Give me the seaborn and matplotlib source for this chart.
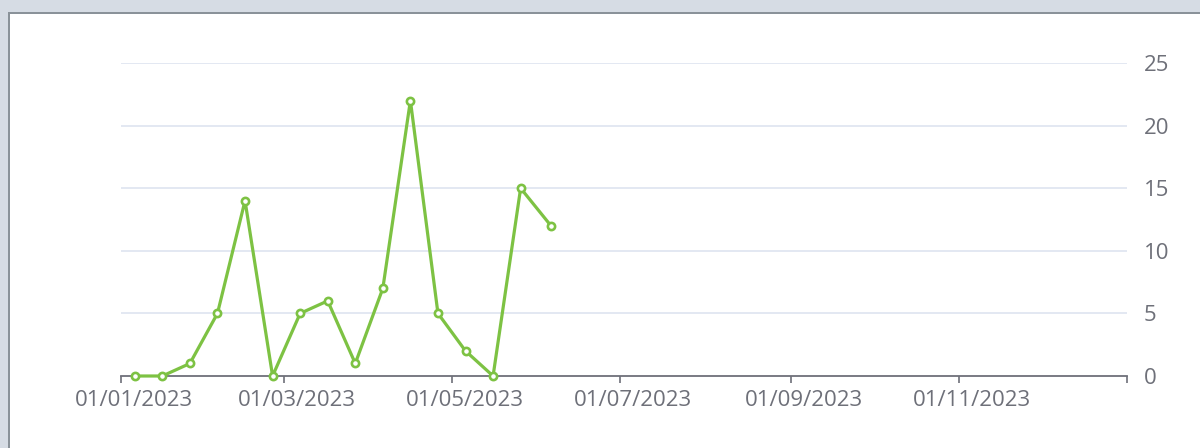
import numpy as np
import pandas as pd
import matplotlib
matplotlib.use("Agg")
import matplotlib.pyplot as plt
import matplotlib.transforms as mtransforms
from matplotlib.patches import Rectangle
import seaborn as sns

# ---- data ----
dates = ["2023-01-06", "2023-01-16", "2023-01-26", "2023-02-05", "2023-02-15",
         "2023-02-25", "2023-03-07", "2023-03-17", "2023-03-27", "2023-04-06",
         "2023-04-16", "2023-04-26", "2023-05-06", "2023-05-16", "2023-05-26",
         "2023-06-06"]
values = [0, 0, 1, 5, 14, 0, 5, 6, 1, 7, 22, 5, 2, 0, 15, 12]
tick_dates = ["2023-01-01", "2023-03-01", "2023-05-01", "2023-07-01",
              "2023-09-01", "2023-11-01", "2024-01-01"]
tick_labels = ["01/01/2023", "01/03/2023", "01/05/2023", "01/07/2023",
               "01/09/2023", "01/11/2023", ""]
y_ticks = [0, 5, 10, 15, 20, 25]

df = pd.DataFrame({"date": pd.to_datetime(dates), "value": values})

sns.set_theme(style="white")
plt.rcParams["font.family"] = ["Open Sans", "DejaVu Sans"]

W, H = 1200, 448
fig = plt.figure(figsize=(W / 100, H / 100), dpi=100, facecolor="white")

# screenshot frame
fig.patches.append(Rectangle((0, (H - 12) / H), 1, 12 / H, transform=fig.transFigure,
                             facecolor="#d6dce4", edgecolor="none", zorder=0))
fig.patches.append(Rectangle((0, 0), 8 / W, 1, transform=fig.transFigure,
                             facecolor="#d6dce4", edgecolor="none", zorder=0))
fig.patches.append(Rectangle((8 / W, (H - 14) / H), 1, 2 / H, transform=fig.transFigure,
                             facecolor="#8a9299", edgecolor="none", zorder=1))
fig.patches.append(Rectangle((8 / W, 0), 2 / W, (H - 12) / H, transform=fig.transFigure,
                             facecolor="#8a9299", edgecolor="none", zorder=1))

ax = fig.add_axes([121 / W, 72 / H, (1127 - 121) / W, (376 - 63) / H])
ax.set_facecolor("none")

green = "#7dc243"
sns.lineplot(data=df, x="date", y="value", ax=ax, color=green, linewidth=2.3,
             marker="o", markersize=5.2, markerfacecolor="white",
             markeredgecolor=green, markeredgewidth=1.9, zorder=5, clip_on=False)

ax.set_xlim(pd.Timestamp("2023-01-01"), pd.Timestamp("2024-01-01"))
ax.set_ylim(0, 25)

ax.set_xticks(pd.to_datetime(tick_dates))
ax.set_xticklabels(tick_labels)
ax.yaxis.tick_right()
ax.set_yticks(y_ticks)
ax.set_yticklabels([str(v) for v in y_ticks])

label_color = "#6e7079"
ax.tick_params(axis="x", length=5, width=1.2, color=label_color, labelcolor=label_color,
               labelsize=16, pad=5, bottom=True, direction="out")
ax.tick_params(axis="y", length=0, labelcolor=label_color, labelsize=16, pad=12,
               right=True, left=False)

# labels sit slightly right of their ticks in the reference
offset = mtransforms.ScaledTranslation(13 / 100, 0, fig.dpi_scale_trans)
for lbl in ax.get_xticklabels():
    lbl.set_transform(lbl.get_transform() + offset)

for v in y_ticks[1:]:
    ax.axhline(v, color="#e0e6f1", linewidth=1.3, zorder=1)

for s in ["top", "left", "right"]:
    ax.spines[s].set_visible(False)
ax.spines["bottom"].set_color(label_color)
ax.spines["bottom"].set_linewidth(1.3)
ax.grid(False)
ax.set_xlabel("")
ax.set_ylabel("")

fig.savefig("out.png", dpi=100, facecolor="white")
